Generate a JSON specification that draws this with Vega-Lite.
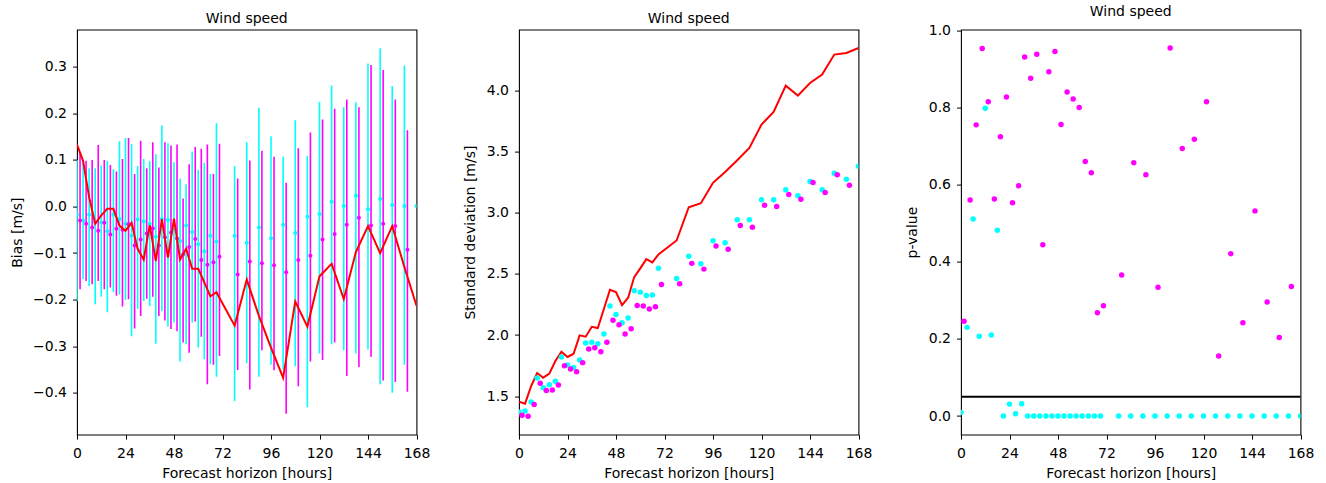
{
  "$schema": "https://vega.github.io/schema/vega-lite/v6.json",
  "padding": {"left": 9, "top": 4.6, "right": 5, "bottom": 2},
  "background": "#ffffff",
  "bounds": "flush",
  "spacing": 102,
  "config": {
    "font": "DejaVu Sans",
    "view": {"stroke": "#000000", "strokeWidth": 1.1},
    "title": {"font": "DejaVu Sans", "fontSize": 14, "fontWeight": "normal", "color": "#000000", "offset": 0, "baseline": "bottom"},
    "axis": {"domain": false, "grid": false, "tickColor": "#000000", "tickSize": 4.5, "tickWidth": 1, "labelFont": "DejaVu Sans", "labelFontSize": 14, "labelColor": "#000000", "titleFont": "DejaVu Sans", "titleFontSize": 14, "titleFontWeight": "normal", "titleColor": "#000000"},
    "axisX": {"labelPadding": 7, "titlePadding": 6, "labelFlush": false},
    "axisY": {"labelPadding": 6, "titlePadding": 8.5, "labelFlush": false}
  },
  "datasets": {
    "cy": [
      {"h": 0, "bias": -0.017, "lo": -0.203, "hi": 0.100, "sd": 1.372, "p": 0.009},
      {"h": 3, "bias": -0.030, "lo": -0.156, "hi": 0.100, "sd": 1.380, "p": 0.230},
      {"h": 6, "bias": -0.017, "lo": -0.171, "hi": 0.082, "sd": 1.453, "p": 0.511},
      {"h": 9, "bias": -0.034, "lo": -0.210, "hi": 0.082, "sd": 1.649, "p": 0.207},
      {"h": 12, "bias": -0.034, "lo": -0.194, "hi": 0.088, "sd": 1.570, "p": 0.798},
      {"h": 15, "bias": -0.053, "lo": -0.227, "hi": 0.098, "sd": 1.595, "p": 0.210},
      {"h": 18, "bias": -0.018, "lo": -0.184, "hi": 0.080, "sd": 1.622, "p": 0.482},
      {"h": 21, "bias": -0.027, "lo": -0.189, "hi": 0.140, "sd": 1.821, "p": 0.0},
      {"h": 24, "bias": -0.037, "lo": -0.201, "hi": 0.147, "sd": 1.755, "p": 0.031},
      {"h": 27, "bias": -0.063, "lo": -0.279, "hi": 0.134, "sd": 1.736, "p": 0.006},
      {"h": 30, "bias": -0.028, "lo": -0.220, "hi": 0.087, "sd": 1.796, "p": 0.032},
      {"h": 33, "bias": -0.032, "lo": -0.203, "hi": 0.102, "sd": 1.935, "p": 0.0},
      {"h": 36, "bias": -0.037, "lo": -0.214, "hi": 0.097, "sd": 1.941, "p": 0.0},
      {"h": 39, "bias": -0.065, "lo": -0.295, "hi": 0.112, "sd": 1.930, "p": 0.0},
      {"h": 42, "bias": -0.027, "lo": -0.225, "hi": 0.174, "sd": 2.008, "p": 0.0},
      {"h": 45, "bias": -0.029, "lo": -0.258, "hi": 0.136, "sd": 2.237, "p": 0.0},
      {"h": 48, "bias": -0.050, "lo": -0.249, "hi": 0.095, "sd": 2.169, "p": 0.0},
      {"h": 51, "bias": -0.074, "lo": -0.333, "hi": 0.060, "sd": 2.101, "p": 0.0},
      {"h": 54, "bias": -0.041, "lo": -0.296, "hi": 0.048, "sd": 2.139, "p": 0.0},
      {"h": 57, "bias": -0.055, "lo": -0.249, "hi": 0.118, "sd": 2.362, "p": 0.0},
      {"h": 60, "bias": -0.081, "lo": -0.303, "hi": 0.079, "sd": 2.351, "p": 0.0},
      {"h": 63, "bias": -0.096, "lo": -0.328, "hi": 0.094, "sd": 2.324, "p": 0.0},
      {"h": 66, "bias": -0.063, "lo": -0.339, "hi": 0.070, "sd": 2.327, "p": 0.0},
      {"h": 69, "bias": -0.075, "lo": -0.366, "hi": 0.179, "sd": 2.547, "p": 0.0},
      {"h": 78, "bias": -0.063, "lo": -0.418, "hi": 0.087, "sd": 2.463, "p": 0.0},
      {"h": 84, "bias": -0.078, "lo": -0.337, "hi": 0.138, "sd": 2.645, "p": 0.0},
      {"h": 90, "bias": -0.045, "lo": -0.366, "hi": 0.212, "sd": 2.582, "p": 0.0},
      {"h": 96, "bias": -0.068, "lo": -0.340, "hi": 0.151, "sd": 2.770, "p": 0.0},
      {"h": 102, "bias": -0.039, "lo": -0.350, "hi": 0.107, "sd": 2.754, "p": 0.0},
      {"h": 108, "bias": -0.057, "lo": -0.343, "hi": 0.185, "sd": 2.942, "p": 0.0},
      {"h": 114, "bias": -0.022, "lo": -0.431, "hi": 0.109, "sd": 2.942, "p": 0.0},
      {"h": 120, "bias": -0.016, "lo": -0.316, "hi": 0.225, "sd": 3.105, "p": 0.0},
      {"h": 126, "bias": 0.010, "lo": -0.296, "hi": 0.260, "sd": 3.105, "p": 0.0},
      {"h": 132, "bias": 0.001, "lo": -0.309, "hi": 0.213, "sd": 3.187, "p": 0.0},
      {"h": 138, "bias": 0.023, "lo": -0.316, "hi": 0.224, "sd": 3.138, "p": 0.0},
      {"h": 144, "bias": -0.006, "lo": -0.307, "hi": 0.307, "sd": 3.255, "p": 0.0},
      {"h": 150, "bias": 0.016, "lo": -0.382, "hi": 0.340, "sd": 3.187, "p": 0.0},
      {"h": 156, "bias": 0.003, "lo": -0.400, "hi": 0.259, "sd": 3.323, "p": 0.0},
      {"h": 162, "bias": 0.001, "lo": -0.340, "hi": 0.303, "sd": 3.274, "p": 0.0},
      {"h": 168, "bias": 0.001, "lo": null, "hi": null, "sd": 3.380, "p": 0.0}
    ],
    "mg": [
      {"h": 1.5, "bias": -0.030, "lo": -0.178, "hi": 0.115, "sd": 1.345, "p": 0.246},
      {"h": 4.5, "bias": -0.037, "lo": -0.160, "hi": 0.098, "sd": 1.337, "p": 0.560},
      {"h": 7.5, "bias": -0.045, "lo": -0.167, "hi": 0.100, "sd": 1.432, "p": 0.755},
      {"h": 10.5, "bias": -0.052, "lo": -0.160, "hi": 0.132, "sd": 1.606, "p": 0.953},
      {"h": 13.5, "bias": -0.035, "lo": -0.178, "hi": 0.100, "sd": 1.548, "p": 0.815},
      {"h": 16.5, "bias": -0.060, "lo": -0.174, "hi": 0.089, "sd": 1.551, "p": 0.563},
      {"h": 19.5, "bias": -0.048, "lo": -0.192, "hi": 0.075, "sd": 1.592, "p": 0.724},
      {"h": 22.5, "bias": -0.050, "lo": -0.215, "hi": 0.102, "sd": 1.750, "p": 0.827},
      {"h": 25.5, "bias": -0.038, "lo": -0.199, "hi": 0.147, "sd": 1.723, "p": 0.553},
      {"h": 28.5, "bias": -0.084, "lo": -0.262, "hi": 0.070, "sd": 1.701, "p": 0.597},
      {"h": 31.5, "bias": -0.071, "lo": -0.235, "hi": 0.141, "sd": 1.775, "p": 0.931},
      {"h": 34.5, "bias": -0.058, "lo": -0.198, "hi": 0.082, "sd": 1.886, "p": 0.876},
      {"h": 37.5, "bias": -0.047, "lo": -0.194, "hi": 0.138, "sd": 1.897, "p": 0.938},
      {"h": 40.5, "bias": -0.084, "lo": -0.235, "hi": 0.084, "sd": 1.864, "p": 0.444},
      {"h": 43.5, "bias": -0.066, "lo": -0.245, "hi": 0.138, "sd": 1.941, "p": 0.893},
      {"h": 46.5, "bias": -0.056, "lo": -0.263, "hi": 0.131, "sd": 2.122, "p": 0.945},
      {"h": 49.5, "bias": -0.069, "lo": -0.268, "hi": 0.133, "sd": 2.085, "p": 0.756},
      {"h": 52.5, "bias": -0.103, "lo": -0.292, "hi": 0.017, "sd": 2.009, "p": 0.840},
      {"h": 55.5, "bias": -0.087, "lo": -0.314, "hi": 0.091, "sd": 2.052, "p": 0.822},
      {"h": 58.5, "bias": -0.070, "lo": -0.247, "hi": 0.128, "sd": 2.242, "p": 0.800},
      {"h": 61.5, "bias": -0.115, "lo": -0.280, "hi": 0.124, "sd": 2.237, "p": 0.660},
      {"h": 64.5, "bias": -0.125, "lo": -0.382, "hi": 0.133, "sd": 2.213, "p": 0.631},
      {"h": 67.5, "bias": -0.120, "lo": -0.340, "hi": 0.070, "sd": 2.232, "p": 0.268},
      {"h": 70.5, "bias": -0.108, "lo": -0.321, "hi": 0.135, "sd": 2.414, "p": 0.286},
      {"h": 79.5, "bias": -0.146, "lo": -0.351, "hi": 0.060, "sd": 2.419, "p": 0.366},
      {"h": 85.5, "bias": -0.118, "lo": -0.393, "hi": 0.099, "sd": 2.586, "p": 0.657},
      {"h": 91.5, "bias": -0.122, "lo": -0.309, "hi": 0.120, "sd": 2.539, "p": 0.626},
      {"h": 97.5, "bias": -0.126, "lo": -0.352, "hi": 0.107, "sd": 2.727, "p": 0.334},
      {"h": 103.5, "bias": -0.141, "lo": -0.445, "hi": 0.051, "sd": 2.702, "p": 0.954},
      {"h": 109.5, "bias": -0.115, "lo": -0.386, "hi": 0.125, "sd": 2.896, "p": 0.694},
      {"h": 115.5, "bias": -0.106, "lo": -0.333, "hi": 0.159, "sd": 2.882, "p": 0.718},
      {"h": 121.5, "bias": -0.071, "lo": -0.330, "hi": 0.187, "sd": 3.061, "p": 0.815},
      {"h": 127.5, "bias": -0.059, "lo": -0.292, "hi": 0.210, "sd": 3.051, "p": 0.156},
      {"h": 133.5, "bias": -0.039, "lo": -0.364, "hi": 0.230, "sd": 3.149, "p": 0.421},
      {"h": 139.5, "bias": -0.024, "lo": -0.345, "hi": 0.213, "sd": 3.110, "p": 0.242},
      {"h": 145.5, "bias": -0.041, "lo": -0.323, "hi": 0.304, "sd": 3.247, "p": 0.532},
      {"h": 151.5, "bias": -0.037, "lo": -0.374, "hi": 0.293, "sd": 3.165, "p": 0.296},
      {"h": 157.5, "bias": -0.042, "lo": -0.377, "hi": 0.230, "sd": 3.310, "p": 0.204},
      {"h": 163.5, "bias": -0.093, "lo": -0.398, "hi": 0.164, "sd": 3.225, "p": 0.336}
    ],
    "rd": [
      {"h": 0, "bias": 0.133, "sd": 1.456},
      {"h": 3, "bias": 0.098, "sd": 1.440},
      {"h": 6, "bias": 0.020, "sd": 1.584},
      {"h": 9, "bias": -0.037, "sd": 1.690},
      {"h": 12, "bias": -0.019, "sd": 1.652},
      {"h": 15, "bias": -0.005, "sd": 1.685},
      {"h": 18, "bias": -0.005, "sd": 1.788},
      {"h": 21, "bias": -0.041, "sd": 1.864},
      {"h": 24, "bias": -0.052, "sd": 1.821},
      {"h": 27, "bias": -0.035, "sd": 1.848},
      {"h": 30, "bias": -0.091, "sd": 1.998},
      {"h": 33, "bias": -0.114, "sd": 1.987},
      {"h": 36, "bias": -0.040, "sd": 2.068},
      {"h": 39, "bias": -0.117, "sd": 2.058},
      {"h": 42, "bias": -0.027, "sd": 2.213},
      {"h": 45, "bias": -0.110, "sd": 2.370},
      {"h": 48, "bias": -0.026, "sd": 2.351},
      {"h": 51, "bias": -0.114, "sd": 2.245},
      {"h": 54, "bias": -0.091, "sd": 2.305},
      {"h": 57, "bias": -0.134, "sd": 2.474},
      {"h": 60, "bias": -0.134, "sd": 2.545},
      {"h": 63, "bias": -0.163, "sd": 2.621},
      {"h": 66, "bias": -0.193, "sd": 2.594},
      {"h": 69, "bias": -0.184, "sd": 2.659},
      {"h": 78, "bias": -0.256, "sd": 2.773},
      {"h": 84, "bias": -0.157, "sd": 3.045},
      {"h": 90, "bias": -0.235, "sd": 3.078},
      {"h": 96, "bias": -0.303, "sd": 3.244},
      {"h": 102, "bias": -0.368, "sd": 3.333},
      {"h": 108, "bias": -0.204, "sd": 3.429},
      {"h": 114, "bias": -0.258, "sd": 3.529},
      {"h": 120, "bias": -0.150, "sd": 3.720},
      {"h": 126, "bias": -0.123, "sd": 3.823},
      {"h": 132, "bias": -0.199, "sd": 4.038},
      {"h": 138, "bias": -0.098, "sd": 3.957},
      {"h": 144, "bias": -0.042, "sd": 4.060},
      {"h": 150, "bias": -0.100, "sd": 4.128},
      {"h": 156, "bias": -0.042, "sd": 4.292},
      {"h": 162, "bias": -0.130, "sd": 4.305},
      {"h": 168, "bias": -0.213, "sd": 4.346}
    ]
  },
  "hconcat": [
    {
      "width": 339.5,
      "height": 405,
      "title": "Wind speed",
      "encoding": {
        "x": {"field": "h", "type": "quantitative", "title": "Forecast horizon [hours]", "scale": {"domain": [0, 168], "nice": false, "zero": false}, "axis": {"values": [0, 24, 48, 72, 96, 120, 144, 168]}}
      },
      "layer": [
        {
          "data": {"name": "cy"},
          "transform": [{"filter": "isValid(datum.lo)"}],
          "mark": {"type": "rule", "color": "#00ffff", "strokeWidth": 1.6, "clip": true},
          "encoding": {
            "y": {"field": "lo", "type": "quantitative", "title": "Bias [m/s]", "scale": {"domain": [-0.49, 0.38], "nice": false, "zero": false}, "axis": {"values": [-0.4, -0.3, -0.2, -0.1, 0, 0.1, 0.2, 0.3], "format": ".1f"}},
            "y2": {"field": "hi"}
          }
        },
        {
          "data": {"name": "mg"},
          "mark": {"type": "rule", "color": "#ff00ff", "strokeWidth": 1.6, "clip": true},
          "encoding": {
            "y": {"field": "lo", "type": "quantitative", "title": "Bias [m/s]"},
            "y2": {"field": "hi"}
          }
        },
        {
          "data": {"name": "cy"},
          "mark": {"type": "circle", "color": "#00ffff", "opacity": 1, "size": 16, "clip": true},
          "encoding": {"y": {"field": "bias", "type": "quantitative", "title": "Bias [m/s]"}}
        },
        {
          "data": {"name": "mg"},
          "mark": {"type": "circle", "color": "#ff00ff", "opacity": 1, "size": 16, "clip": true},
          "encoding": {"y": {"field": "bias", "type": "quantitative", "title": "Bias [m/s]"}}
        },
        {
          "data": {"name": "rd"},
          "mark": {"type": "line", "color": "#ff0000", "strokeWidth": 2, "clip": true},
          "encoding": {"y": {"field": "bias", "type": "quantitative", "title": "Bias [m/s]"}}
        }
      ]
    },
    {
      "width": 339.5,
      "height": 405,
      "title": "Wind speed",
      "encoding": {
        "x": {"field": "h", "type": "quantitative", "title": "Forecast horizon [hours]", "scale": {"domain": [0, 168], "nice": false, "zero": false}, "axis": {"values": [0, 24, 48, 72, 96, 120, 144, 168]}}
      },
      "layer": [
        {
          "data": {"name": "rd"},
          "mark": {"type": "line", "color": "#ff0000", "strokeWidth": 2, "clip": true},
          "encoding": {"y": {"field": "sd", "type": "quantitative", "title": "Standard deviation [m/s]", "scale": {"domain": [1.187, 4.496], "nice": false, "zero": false}, "axis": {"values": [1.5, 2.0, 2.5, 3.0, 3.5, 4.0], "format": ".1f"}}}
        },
        {
          "data": {"name": "cy"},
          "mark": {"type": "circle", "color": "#00ffff", "opacity": 1, "size": 30, "clip": true},
          "encoding": {"y": {"field": "sd", "type": "quantitative", "title": "Standard deviation [m/s]"}}
        },
        {
          "data": {"name": "mg"},
          "mark": {"type": "circle", "color": "#ff00ff", "opacity": 1, "size": 30, "clip": true},
          "encoding": {"y": {"field": "sd", "type": "quantitative", "title": "Standard deviation [m/s]"}}
        }
      ]
    },
    {
      "width": 339.5,
      "height": 405,
      "title": "Wind speed",
      "layer": [
        {
          "data": {"name": "cy"},
          "mark": {"type": "circle", "color": "#00ffff", "opacity": 1, "size": 30, "clip": true},
          "encoding": {
            "x": {"field": "h", "type": "quantitative", "title": "Forecast horizon [hours]", "scale": {"domain": [0, 168], "nice": false, "zero": false}, "axis": {"values": [0, 24, 48, 72, 96, 120, 144, 168]}},
            "y": {"field": "p", "type": "quantitative", "title": "p-value", "scale": {"domain": [-0.048, 1.002], "nice": false, "zero": false}, "axis": {"values": [0, 0.2, 0.4, 0.6, 0.8, 1.0], "format": ".1f"}}
          }
        },
        {
          "data": {"name": "mg"},
          "mark": {"type": "circle", "color": "#ff00ff", "opacity": 1, "size": 30, "clip": true},
          "encoding": {
            "x": {"field": "h", "type": "quantitative", "title": "Forecast horizon [hours]"},
            "y": {"field": "p", "type": "quantitative", "title": "p-value"}
          }
        },
        {
          "data": {"values": [{}]},
          "mark": {"type": "rule", "color": "#000000", "strokeWidth": 2},
          "encoding": {"y": {"datum": 0.05}}
        }
      ]
    }
  ]
}
